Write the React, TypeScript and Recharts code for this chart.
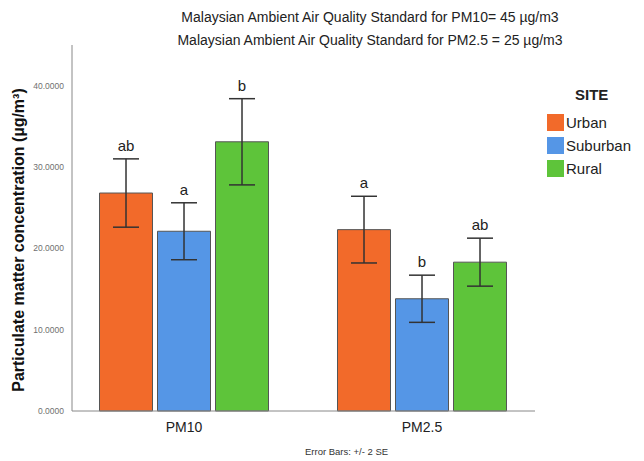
import React from "react";
import { BarChart, Bar, XAxis, YAxis, ErrorBar, LabelList, Label } from "recharts";

const categories = ["PM10", "PM2.5"];
const urban = [26.8, 22.3];
const suburban = [22.1, 13.8];
const rural = [33.1, 18.3];
const urbanErr = [4.2, 4.1];
const suburbanErr = [3.5, 2.9];
const ruralErr = [5.3, 2.95];
const urbanLetters = ["ab", "a"];
const suburbanLetters = ["a", "b"];
const ruralLetters = ["b", "ab"];
const yTicks = [0, 10, 20, 30, 40];

const FONT = "'Liberation Sans', Arial, sans-serif";

const series = [
  { key: "Urban", values: urban, errors: urbanErr, letters: urbanLetters, color: "#F26A2A" },
  { key: "Suburban", values: suburban, errors: suburbanErr, letters: suburbanLetters, color: "#5596E6" },
  { key: "Rural", values: rural, errors: ruralErr, letters: ruralLetters, color: "#5EC43A" },
];

const data = categories.map((name, i) => {
  const row: Record<string, string | number> = { name };
  series.forEach((s) => {
    row[s.key] = s.values[i];
    row[s.key + "Err"] = s.errors[i];
    row[s.key + "Letter"] = s.letters[i];
  });
  return row;
});

const letterLabel = (errors: number[], values: number[]) => (props: any) => {
  const { x, y, width, height, value, index } = props;
  const pxPerUnit = height / values[index];
  const top = y - errors[index] * pxPerUnit;
  return (
    <text x={x + width / 2} y={top - 8} textAnchor="middle" fontSize={15} fill="#222" fontFamily={FONT}>
      {value}
    </text>
  );
};

// legend drawn as plain html so the chart keeps its full plot height
const SiteLegend = () => (
  <div style={{ position: "absolute", left: 547, top: 86, fontFamily: FONT, color: "#222" }}>
    <div style={{ fontWeight: "bold", fontSize: 15, marginLeft: 28, marginBottom: 8 }}>SITE</div>
    {series.map((s) => (
      <div key={s.key} style={{ display: "flex", alignItems: "center", height: 23 }}>
        <span style={{ display: "inline-block", width: 17, height: 17, background: s.color, marginRight: 2 }} />
        <span style={{ fontSize: 15 }}>{s.key}</span>
      </div>
    ))}
  </div>
);

const YLabel = () => (
  <text
    x={18}
    y={240}
    transform="rotate(-90, 18, 240)"
    textAnchor="middle"
    dominantBaseline="central"
    fontSize={16}
    fontWeight="bold"
    fill="#111"
    fontFamily={FONT}
  >
    Particulate matter concentration (µg/m³)
  </text>
);

export default function App() {
  return (
    <div style={{ position: "absolute", left: 0, top: 0, width: 644, height: 461, background: "#fff", fontFamily: FONT }}>
      <div style={{ position: "absolute", left: 0, width: 740, top: 6, textAlign: "center", fontSize: 14, color: "#222", lineHeight: "23px" }}>
        <div>Malaysian Ambient Air Quality Standard for PM10= 45 µg/m3</div>
        <div>Malaysian Ambient Air Quality Standard for PM2.5 = 25 µg/m3</div>
      </div>
      <BarChart
        width={644}
        height={461}
        data={data}
        margin={{ top: 45, right: 109, bottom: 0, left: 0 }}
        barGap={5}
        barCategoryGap="14.5%"
      >
        <XAxis
          dataKey="name"
          height={50}
          padding={{ left: -7, right: -6 }}
          tickLine={false}
          axisLine={{ stroke: "#888" }}
          tick={{ fontSize: 14, fill: "#222", fontFamily: FONT, dy: 3 }}
        />
        <YAxis
          width={72}
          domain={[0, 45]}
          ticks={yTicks}
          tickLine={false}
          axisLine={{ stroke: "#888" }}
          tickFormatter={(v: number) => v.toFixed(4)}
          tick={{ fontSize: 8.5, fill: "#707070", fontFamily: FONT }}
        >
          <Label content={YLabel} />
        </YAxis>
        {series.map((s) => (
          <Bar key={s.key} dataKey={s.key} fill={s.color} stroke="#555" strokeWidth={1} isAnimationActive={false}>
            <ErrorBar dataKey={s.key + "Err"} width={13} stroke="#333" strokeWidth={1.5} />
            <LabelList dataKey={s.key + "Letter"} content={letterLabel(s.errors, s.values)} />
          </Bar>
        ))}
      </BarChart>
      <SiteLegend />
      <div style={{ position: "absolute", left: 305, top: 446, fontSize: 9.5, color: "#333" }}>Error Bars: +/- 2 SE</div>
    </div>
  );
}
